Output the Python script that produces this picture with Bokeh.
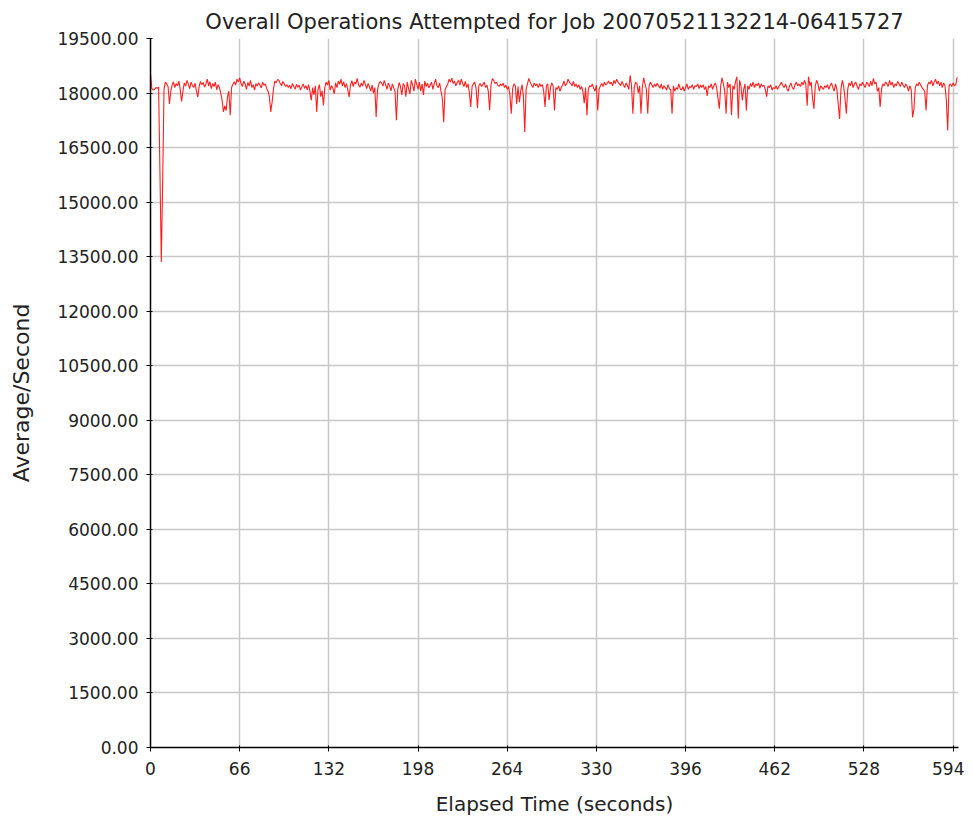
from bokeh.plotting import figure
from bokeh.models import Range1d, FixedTicker
from bokeh.embed import file_html
from bokeh.resources import INLINE

title_text = "Overall Operations Attempted for Job 20070521132214-06415727"
x_label = "Elapsed Time (seconds)"
y_label = "Average/Second"

x_ticks = [0, 66, 132, 198, 264, 330, 396, 462, 528, 594]
x_tick_labels = ["0", "66", "132", "198", "264", "330", "396", "462", "528", "594"]
y_ticks = [0, 1500, 3000, 4500, 6000, 7500, 9000, 10500, 12000, 13500, 15000, 16500, 18000, 19500]
y_tick_labels = ["0.00", "1500.00", "3000.00", "4500.00", "6000.00", "7500.00", "9000.00",
                 "10500.00", "12000.00", "13500.00", "15000.00", "16500.00", "18000.00", "19500.00"]

ops_per_second = [
    18550, 18120, 18080, 18100, 18150, 18130, 18160, 15800, 13350, 15550, 18100, 18300, 18250, 18180, 17700, 18050, 18220, 18310, 18150, 18260,
    18200, 18330, 18100, 17770, 18050, 18280, 18190, 18350, 18240, 18120, 18300, 18210, 18150, 18270, 18050, 17890, 18180, 18320, 18230, 18290,
    18160, 18250, 18380, 18200, 18310, 18120, 18260, 18180, 18300, 18090, 18230, 18150, 18000, 17800, 17480, 17650, 17520, 17900, 18050, 17390,
    18150, 18240, 18310, 18220, 18380, 18300, 18420, 18260, 18180, 18330, 18250, 18100, 18290, 18200, 18350, 18150, 18230, 18080, 18260, 18190,
    18280, 18220, 18140, 18300, 18210, 18250, 18120, 18050, 17900, 17480, 17750, 18100, 18330, 18280, 18370, 18350, 18260, 18200, 18320, 18250,
    18180, 18230, 18150, 18210, 18120, 18260, 18190, 18100, 18240, 18160, 18220, 18080, 18170, 18250, 18130, 18200, 18090, 18230, 18050, 17800,
    18150, 17950, 18200, 17480, 18100, 18230, 17900, 18060, 17660, 18150, 18300, 18220, 18350, 18080, 18200, 18130, 17980, 18280, 18150, 18330,
    18240, 18380, 18200, 18310, 18150, 18260, 18090, 17890, 18220, 18340, 18180, 18300, 18250, 18400, 18220, 18160, 18280, 18190, 18350, 18240,
    18120, 18260, 18180, 18050, 18220, 18000, 18150, 17340, 18080, 18250, 18320, 18280, 18190, 18350, 18230, 18100, 18270, 18200, 18060, 18250,
    18150, 18030, 17250, 18100, 18290, 18180, 17950, 18260, 18200, 17900, 18300, 18120, 17980, 18350, 18220, 18050, 18380, 18240, 18110, 18300,
    18050, 18250, 17950, 18330, 18180, 18270, 18140, 18220, 18300, 18100, 18260, 18380, 18200, 18150, 18280, 18050, 17850, 17200, 18100, 18170,
    18250, 18380, 18300, 18410, 18260, 18330, 18200, 18290, 18350, 18220, 18380, 18270, 18180, 18320, 18150, 18250, 18000, 17620, 18180, 18250,
    18300, 18120, 17580, 18200, 18260, 18180, 18230, 18300, 18150, 18220, 18050, 17530, 18220, 18400, 18350, 18260, 18300, 18220, 18180, 18250,
    18200, 18270, 18150, 18220, 18100, 18180, 17950, 17430, 18120, 18250, 18200, 17700, 18180, 17750, 18050, 18230, 17900, 16930, 18100, 18250,
    18400, 18300, 18220, 18150, 18280, 18200, 18250, 18150, 18260, 18180, 18230, 18050, 17620, 18200, 18250, 17800, 18150, 18280, 18200, 17520,
    18150, 18100, 18200, 18050, 18150, 18220, 18330, 18200, 18250, 18380, 18300, 18260, 18200, 18320, 18180, 18250, 18150, 18230, 18100, 18180,
    18050, 17720, 18150, 17385, 18100, 18200, 18170, 18250, 18130, 18050, 18220, 17520, 18100, 18200, 18260, 18180, 18300, 18220, 18270, 18330,
    18250, 18300, 18200, 18350, 18260, 18380, 18300, 18250, 18200, 18320, 18230, 18150, 18280, 18200, 18100, 18490, 18200, 17430, 18150, 18300,
    18260, 18000, 18200, 17430, 18150, 18420, 18250, 18100, 17430, 18200, 18300, 18230, 18150, 18250, 18180, 18270, 18200, 18130, 18250, 18100,
    18200, 18150, 18080, 18230, 18120, 18100, 17430, 18200, 18050, 18150, 18100, 18250, 18120, 18080, 18180, 18050, 18150, 18250, 18100, 18180,
    18150, 18230, 18100, 18200, 18180, 18250, 18120, 18220, 18150, 18230, 18100, 18180, 17920, 18200, 18150, 18250, 18100, 18200, 18280, 18150,
    17850, 17570, 18200, 18420, 18250, 18050, 17430, 18300, 18150, 18250, 17390, 18200, 18100, 18320, 18450, 17300, 18350, 18200, 17800, 18100,
    18250, 17520, 18200, 18100, 18260, 18180, 18300, 18150, 18250, 18200, 18280, 18130, 18250, 18180, 18220, 18100, 17900, 18200, 18150, 18230,
    18080, 18150, 18120, 18200, 18100, 18180, 18230, 18300, 18200, 18150, 18250, 18120, 18050, 18200, 18280, 18150, 18100, 18230, 18300, 18200,
    18250, 18180, 18300, 18220, 18350, 18250, 17650, 18450, 18200, 18300, 17850, 17570, 18200, 18350, 18250, 18050, 18200, 18150, 18100, 18200,
    18150, 18230, 18100, 18200, 18280, 18150, 18050, 18250, 18100, 17700, 17290, 18100, 18350, 18200, 17850, 17430, 18100, 18280, 18200, 18330,
    18150, 18250, 18300, 18180, 18100, 18250, 18200, 18300, 18220, 18150, 18300, 18250, 18180, 18330, 18200, 18400, 18250, 18300, 18050, 18150,
    17620, 18100, 18250, 18200, 18300, 18250, 18180, 18350, 18220, 18300, 18150, 18250, 18200, 18320, 18250, 18180, 18300, 18220, 18150, 18250,
    18180, 18050, 18200, 18100, 17330, 17550, 18150, 18250, 18200, 18300, 18220, 18150, 18100, 18050, 17520, 18200, 18300, 18250, 18350, 18200,
    18300, 18380, 18250, 18330, 18200, 18300, 18150, 18280, 18200, 17800, 16970, 18200, 18250, 18180, 18280, 18200, 18230, 18440,
]
elapsed_seconds = list(range(len(ops_per_second)))

FONT = "DejaVu Sans"
TEXT = "#222222"

p = figure(width=964, height=819, output_backend="svg", toolbar_location=None,
           x_range=Range1d(0, 598), y_range=Range1d(0, 19500),
           min_border_left=150, min_border_right=6, min_border_top=38, min_border_bottom=72)
p.title.text = title_text
p.title.align = "center"
p.title.text_font = FONT
p.title.text_font_size = "21px"
p.title.text_font_style = "normal"
p.title.text_color = TEXT
p.title.offset = 0
p.outline_line_color = None
p.background_fill_color = "white"
p.border_fill_color = "white"

p.line(elapsed_seconds, ops_per_second, line_color="#ff2020", line_width=1.1)

p.xaxis.ticker = FixedTicker(ticks=x_ticks)
p.xaxis.major_label_overrides = dict(zip(x_ticks, x_tick_labels))
p.yaxis.ticker = FixedTicker(ticks=y_ticks)
p.yaxis.major_label_overrides = dict(zip(y_ticks, y_tick_labels))
p.xaxis.axis_label = x_label
p.yaxis.axis_label = y_label

for ax in (p.xaxis, p.yaxis):
    ax.axis_line_color = "black"
    ax.axis_line_width = 1.5
    ax.major_tick_line_color = "black"
    ax.major_tick_out = 4
    ax.major_tick_in = 2
    ax.minor_tick_line_color = None
    ax.major_label_text_font = FONT
    ax.major_label_text_font_size = "17px"
    ax.major_label_text_color = TEXT
    ax.axis_label_text_font = FONT
    ax.axis_label_text_font_style = "normal"
    ax.axis_label_text_color = TEXT
p.xaxis.axis_label_text_font_size = "20px"
p.yaxis.axis_label_text_font_size = "22px"
p.xaxis.major_label_standoff = 10
p.xaxis.axis_label_standoff = 14
p.yaxis.major_label_standoff = 8
p.yaxis.axis_label_standoff = 20

p.xgrid.ticker = FixedTicker(ticks=x_ticks)
p.ygrid.ticker = FixedTicker(ticks=y_ticks)
p.grid.grid_line_color = "#c8c8c8"
p.grid.grid_line_width = 1.5

open("out.html", "w").write(file_html(p, INLINE))
